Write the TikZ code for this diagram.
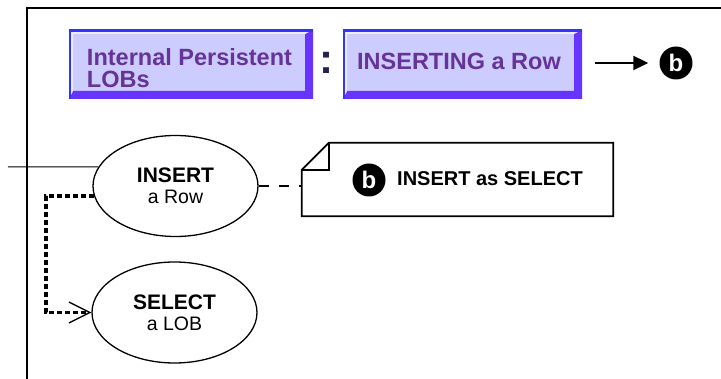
\documentclass[tikz,border=0pt]{standalone}
\usepackage{fontspec}
\setmainfont{Liberation Sans}
\usepackage{tikz}
\usetikzlibrary{positioning,calc,shapes.geometric,arrows.meta}
\definecolor{lobface}{HTML}{CCCCFF}
\definecolor{lobedge}{HTML}{3333FF}
\definecolor{lobdark}{HTML}{6633FF}
\definecolor{loblight}{HTML}{EEEEFF}
\definecolor{lobtext}{HTML}{663399}
\definecolor{lobcolon}{HTML}{222255}
\tikzset{hdr/.style={fill=lobface,minimum width=244pt,minimum height=69pt,inner sep=0pt,
		path picture={
			\coordinate (bsw) at (path picture bounding box.south west);
			\coordinate (bne) at (path picture bounding box.north east);
			\coordinate (bse) at (bsw -| bne);
			\coordinate (bnw) at (bsw |- bne);
			\fill[lobdark] (bsw)--(bse)--(bne)--([shift={(-8pt,-4pt)}]bne)--([shift={(-8pt,8pt)}]bse)--([shift={(4pt,8pt)}]bsw)--cycle;
			\fill[loblight] (bsw)--(bnw)--(bne)--([shift={(-8pt,-4pt)}]bne)--([shift={(4pt,-4pt)}]bnw)--([shift={(4pt,8pt)}]bsw)--cycle;
			\draw[lobedge,line width=4pt] (bsw)--(bnw)--(bne);
		}},
	hdrtext/.style={text=lobtext,font=\bfseries\fontsize{23.5}{22}\selectfont,inner sep=0pt},
	bullet/.style={circle,fill=black,text=white,inner sep=0pt,minimum size=33pt,font=\bfseries\fontsize{24}{24}\selectfont},
	act/.style={ellipse,draw,line width=1.3pt,minimum width=165pt,minimum height=101pt,inner sep=0pt,align=center,font=\fontsize{19.5}{21}\selectfont},
	notebox/.style={minimum width=311pt,minimum height=73pt,inner sep=0pt},
	noteline/.style={line width=1.8pt,line join=miter},
	hdrarrow/.style={line width=2pt,-{Triangle[length=15pt,width=14pt]},shorten <=13pt,shorten >=11pt},
	dotlink/.style={line width=3.5pt,dash pattern=on 5pt off 3pt,-{Straight Barb[length=21pt,width=21pt,line width=1.3pt]}},
	dashlink/.style={line width=1.8pt,dash pattern=on 10pt off 10pt}}

\begin{document}
\begin{tikzpicture}[x=1pt,y=-1pt]
	\useasboundingbox (0,0) rectangle (721,379);
	% frame
	\draw[line width=2pt] (27,379) -- (27,8) -- (721,8);
	% header
	\node[hdr] (topic) at (191,64.5) {};
	\node[hdrtext,align=left] (topictxt) at (189.5,68) {Internal Persistent\\LOBs};
	\node[text=lobcolon,font=\bfseries\fontsize{42}{42}\selectfont,inner sep=0pt,anchor=base] (colon) at (326.5,74) {:};
	\node[hdr,minimum width=239pt] (task) at (462.5,64.5) {};
	\node[hdrtext,anchor=base] (tasktxt) at (459,70) {INSERTING a Row};
	\node[bullet] (bhead) at (676,63) {b};
	\draw[hdrarrow] (task.east |- bhead) -- (bhead);
	% activities
	\node[act] (insert) at (175.5,186) {{\bfseries\fontsize{21}{21}\selectfont INSERT}\\a Row};
	\node[act] (select) at (174.5,312.5) {{\bfseries\fontsize{21}{21}\selectfont SELECT}\\a LOB};
	\coordinate (lifeline) at (8,167);
	\draw[line width=1pt] (lifeline) -- (insert.166);
	\draw[dotlink] (insert.187) -- ++(-48pt,0pt) |- (select.west);
	% note
	\node[notebox] (note) at (457.5,179.5) {};
	\draw[noteline] (note.south west) -- ([yshift=-27pt]note.north west) -- ([xshift=27pt]note.north west) -- (note.north east) -- (note.south east) -- cycle;
	\draw[noteline] ([xshift=27pt]note.north west) -- ([shift={(27pt,-27pt)}]note.north west) -- ([yshift=-27pt]note.north west);
	\node[bullet] (nb) at (369,180) {b};
	\node[inner sep=0pt,anchor=base west,font=\bfseries\fontsize{20}{20}\selectfont] (ntxt) at (397,186) {INSERT as SELECT};
	\draw[dashlink] (insert.east) -- (insert.east -| note.west);
\end{tikzpicture}
\end{document}
